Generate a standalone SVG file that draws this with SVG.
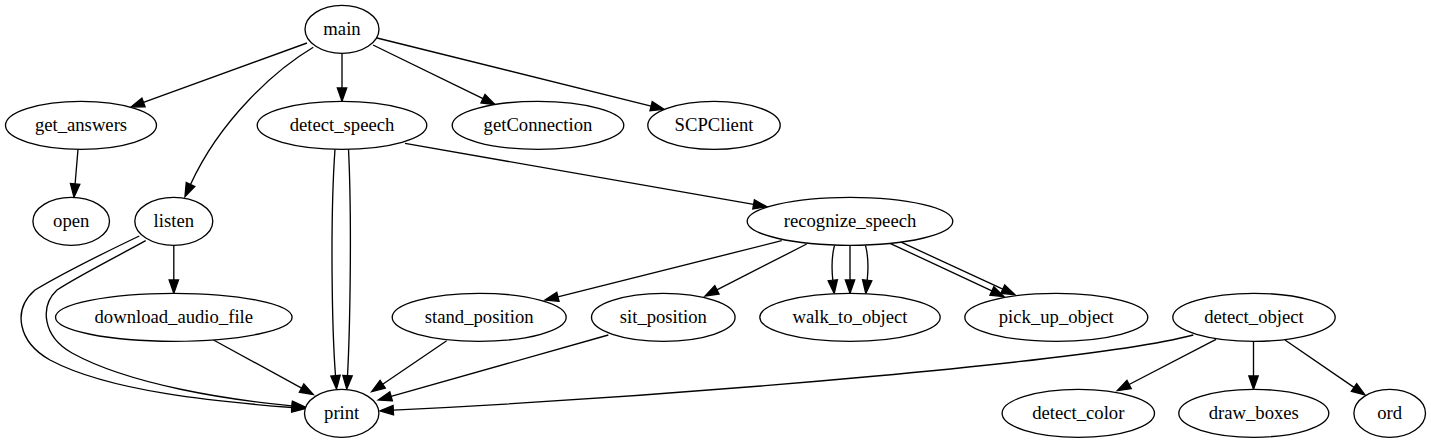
<svg xmlns="http://www.w3.org/2000/svg" width="1431" height="443" viewBox="0 0 1431 443">
<style>
.n ellipse{fill:#fff;stroke:#000;stroke-width:1.33}
.n text{font-family:'Liberation Serif','Times New Roman',serif;font-size:18.67px;text-anchor:middle;fill:#000}
#edges path{fill:none;stroke:#000;stroke-width:1.33;marker-end:url(#ah)}
</style>
<defs>
<marker id="ah" markerUnits="userSpaceOnUse" markerWidth="16" markerHeight="12" refX="0" refY="0" viewBox="-1 -6 16 12" orient="auto" overflow="visible">
<path d="M0,-4.67 L13.33,0 L0,4.67 Z" fill="#000" stroke="#000" stroke-width="1.33"/>
</marker>
</defs>
<rect width="1431" height="443" fill="#fff"/>
<g id="edges">
<path d="M307,43 L143.5,102.4"/>
<path d="M313.3,47.3 C275,70 220,120 190.5,184.5"/>
<path d="M342,53.3 L342,88"/>
<path d="M373,45 L483,98.7"/>
<path d="M377,38 L651.1,106.1"/>
<path d="M78,149.3 L75.1,184"/>
<path d="M335,149.3 C330,220 332,330 335.5,375.7"/>
<path d="M348.5,149.3 C352,220 350,330 347.5,375.7"/>
<path d="M405,143.3 L753.6,204.4"/>
<path d="M139.3,236 C110,250 60,275 35,290 C12,310 18,342 50,360 C110,392 220,402 292,407.5"/>
<path d="M145.7,240.7 C120,255 80,275 57,290 C40,306 42,336 72,353 C130,385 230,400 292,405.8"/>
<path d="M173.8,245.3 L173.8,280"/>
<path d="M213.5,340 L301.6,388.1"/>
<path d="M446.7,340.7 L382.7,384.2"/>
<path d="M608.3,335 L391.1,396.4"/>
<path d="M1193.3,335 C1100,360 700,395 393.3,410.2"/>
<path d="M781.7,240.7 L557.9,296.8"/>
<path d="M806.7,244 L716.9,289.9"/>
<path d="M834.5,245.3 C832,255 831.5,268 832.8,280.2"/>
<path d="M850,245.3 L850,280"/>
<path d="M865.5,245.3 C868,255 868.5,268 867.2,280.2"/>
<path d="M890,243.3 L991.9,290.9"/>
<path d="M900,241.7 L1002.8,289.1"/>
<path d="M1216,339.3 L1129.1,384.5"/>
<path d="M1253.5,341.3 L1253.5,376"/>
<path d="M1285,340 L1354,387.4"/>
</g>
<g id="main" class="n"><ellipse cx="342" cy="29.3" rx="37" ry="24"/><text x="342" y="34.8">main</text></g>
<g id="get_answers" class="n"><ellipse cx="81" cy="125.3" rx="75.5" ry="24"/><text x="81" y="130.8">get_answers</text></g>
<g id="detect_speech" class="n"><ellipse cx="342" cy="125.3" rx="84.8" ry="24"/><text x="342" y="130.8">detect_speech</text></g>
<g id="getConnection" class="n"><ellipse cx="538" cy="125.3" rx="85.8" ry="24"/><text x="538" y="130.8">getConnection</text></g>
<g id="SCPClient" class="n"><ellipse cx="714" cy="125.3" rx="66.2" ry="24"/><text x="714" y="130.8">SCPClient</text></g>
<g id="open" class="n"><ellipse cx="71.2" cy="221.3" rx="38.3" ry="24"/><text x="71.2" y="226.8">open</text></g>
<g id="listen" class="n"><ellipse cx="173.8" cy="221.3" rx="39" ry="24"/><text x="173.8" y="226.8">listen</text></g>
<g id="recognize_speech" class="n"><ellipse cx="850" cy="221.3" rx="102.8" ry="24"/><text x="850" y="226.8">recognize_speech</text></g>
<g id="download_audio_file" class="n"><ellipse cx="173.8" cy="317.3" rx="118.3" ry="24"/><text x="173.8" y="322.8">download_audio_file</text></g>
<g id="stand_position" class="n"><ellipse cx="479.2" cy="317.3" rx="87" ry="24"/><text x="479.2" y="322.8">stand_position</text></g>
<g id="sit_position" class="n"><ellipse cx="663.3" cy="317.3" rx="71.8" ry="24"/><text x="663.3" y="322.8">sit_position</text></g>
<g id="walk_to_object" class="n"><ellipse cx="850" cy="317.3" rx="90.2" ry="24"/><text x="850" y="322.8">walk_to_object</text></g>
<g id="pick_up_object" class="n"><ellipse cx="1056.3" cy="317.3" rx="91.5" ry="24"/><text x="1056.3" y="322.8">pick_up_object</text></g>
<g id="detect_object" class="n"><ellipse cx="1254" cy="317.3" rx="81.2" ry="24"/><text x="1254" y="322.8">detect_object</text></g>
<g id="print" class="n"><ellipse cx="341.7" cy="413.3" rx="37.2" ry="24"/><text x="341.7" y="418.8">print</text></g>
<g id="detect_color" class="n"><ellipse cx="1078.3" cy="413.3" rx="76.2" ry="24"/><text x="1078.3" y="418.8">detect_color</text></g>
<g id="draw_boxes" class="n"><ellipse cx="1253.8" cy="413.3" rx="75" ry="24"/><text x="1253.8" y="418.8">draw_boxes</text></g>
<g id="ord" class="n"><ellipse cx="1389.7" cy="413.3" rx="35.8" ry="24"/><text x="1389.7" y="418.8">ord</text></g>
</svg>
